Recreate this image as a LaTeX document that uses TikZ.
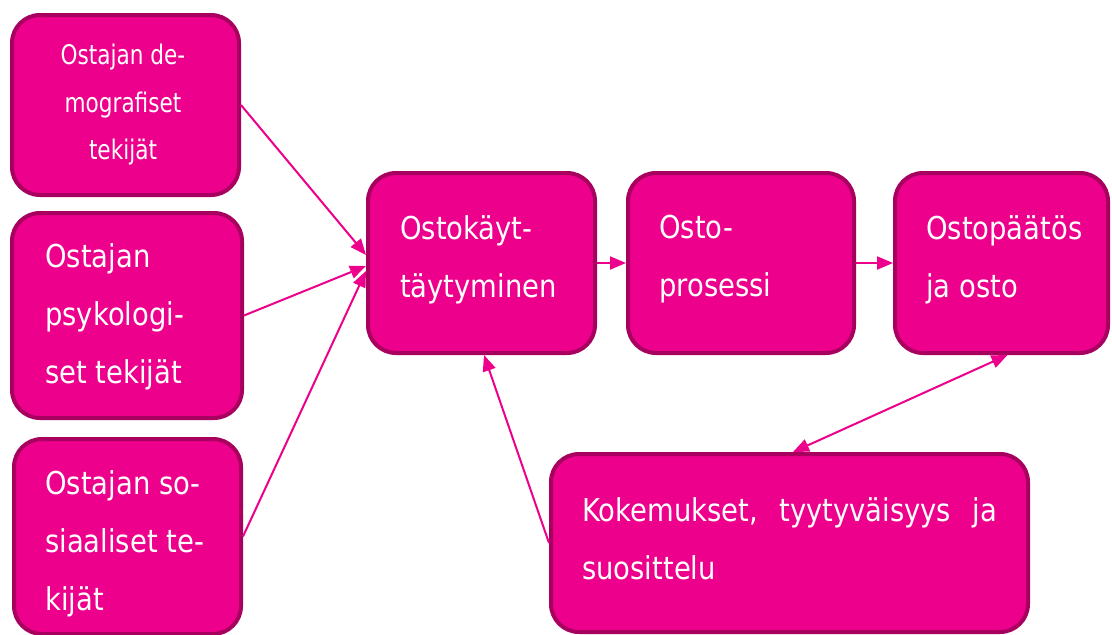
\documentclass[tikz,border=0pt]{standalone}
\usepackage{fontspec}
\setmainfont{DejaVu Sans}
\newfontfamily\mainnarrow[FakeStretch=0.87]{DejaVu Sans}
\newfontfamily\smallnarrow[FakeStretch=0.8]{DejaVu Sans}
\usetikzlibrary{arrows.meta}
\definecolor{boxfill}{HTML}{EC008C}
\definecolor{boxline}{HTML}{A8005F}
\definecolor{connclr}{HTML}{EC008C}
\tikzset{
  box/.style={draw=boxline, fill=boxfill, line width=4pt, rounded corners=28pt, inner sep=0pt},
  txt/.style={text=white, inner sep=0pt, align=left, anchor=west, font=\mainnarrow\fontsize{31.5}{58}\selectfont},
  smalltxt/.style={text=white, inner sep=0pt, align=center, anchor=center, font=\smallnarrow\fontsize{27}{47.5}\selectfont},
  conn/.style={draw=connclr, line width=2pt, -{Triangle[length=16pt,width=13pt]}},
  dconn/.style={draw=connclr, line width=2pt, {Triangle[length=16pt,width=13pt]}-{Triangle[length=16pt,width=13pt]}}
}
\begin{document}
\begin{tikzpicture}[x=1pt,y=-1pt]
\useasboundingbox (0,0) rectangle (1112,635);
\fill[white] (0,0) rectangle (1112,635);
% boxes
\node[box, minimum width=227pt, minimum height=180pt] (b1) at (125.5,105) {};
\node[box, minimum width=230pt, minimum height=205pt] (b2) at (127,315.5) {};
\node[box, minimum width=227pt, minimum height=195pt] (b3) at (127.5,536.5) {};
\node[box, minimum width=227pt, minimum height=180pt] (b4) at (481.5,263) {};
\node[box, minimum width=226pt, minimum height=180pt] (b5) at (741,263) {};
\node[box, minimum width=213pt, minimum height=180pt] (b6) at (1001.5,263) {};
\node[box, minimum width=477pt, minimum height=178pt] (b7) at (789.5,543) {};
% texts
\node[smalltxt] (t1) at (123,105) {Ostajan de-\\mografiset\\tekijät};
\node[txt] (t2) at (45,317) {Ostajan\\psykologi-\\set tekijät};
\node[txt] (t3) at (45,544) {Ostajan so-\\siaaliset te-\\kijät};
\node[txt] (t4) at (400,259.5) {Ostokäyt-\\täytyminen};
\node[txt] (t5) at (659,259.5) {Osto-\\prosessi};
\node[txt] (t6) at (926,259.5) {Ostopäätös\\ja osto};
\node[txt, text width=415pt] (t7) at (582,539) {Kokemukset,\hfill tyytyväisyys\hfill ja\\suosittelu};
% connectors
\draw[conn] (b1.east) -- ([yshift=8pt]b4.west);
\draw[conn] (b2.east) -- ([yshift=-3pt]b4.west);
\draw[conn] (b3.east) -- ([yshift=-8pt]b4.west);
\draw[conn] (b4.east) -- (b5.west);
\draw[conn] (b5.east) -- (b6.west);
\draw[dconn] ([xshift=6pt]b6.south) -- ([xshift=3.5pt]b7.north);
\draw[conn] (b7.west) -- ([xshift=2.5pt]b4.south);
\end{tikzpicture}
\end{document}
